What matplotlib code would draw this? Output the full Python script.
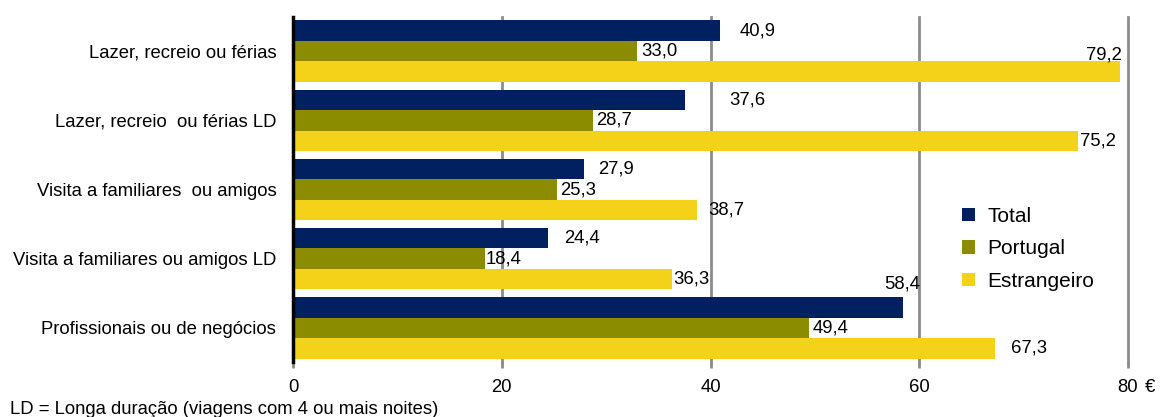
import matplotlib
matplotlib.use("Agg")
import matplotlib.pyplot as plt
import numpy as np

plt.rcParams['font.family'] = ['Liberation Sans', 'DejaVu Sans']

# data
categories = ['Lazer, recreio ou férias',
              'Lazer, recreio  ou férias LD',
              'Visita a familiares  ou amigos',
              'Visita a familiares ou amigos LD',
              'Profissionais ou de negócios']
total = [40.9, 37.6, 27.9, 24.4, 58.4]
portugal = [33.0, 28.7, 25.3, 18.4, 49.4]
estrangeiro = [79.2, 75.2, 38.7, 36.3, 67.3]
series_names = ['Total', 'Portugal', 'Estrangeiro']
xticks = [0, 20, 40, 60, 80]

colors = ['#00205F', '#8C8C00', '#F5D21A']

# label nudges (pixels) to mimic the original label placement
dx = [[20, 4, -34], [44, 4, 2], [14, 3, 11], [16, 1, 1], [-18, 4, 16]]
dy = [[0, 0, -17], [0, 0, 0], [0, 0, 0], [0, 0, 0], [-23, 0, 0]]

fig = plt.figure(figsize=(11.61, 4.17), dpi=100)
ax = fig.add_axes([293 / 1161, 1 - 362 / 417, (1128 - 293) / 1161, (362 - 17) / 417])

fs = 13.3
h = 0.296
y = np.arange(len(categories))
all_series = [total, portugal, estrangeiro]
for j, vals in enumerate(all_series):
    pos = y + (j - 1) * h
    ax.barh(pos, vals, height=h, color=colors[j], label=series_names[j], zorder=2)
    for i, v in enumerate(vals):
        ax.annotate(f'{v:.1f}'.replace('.', ','), (v, pos[i]),
                    xytext=(dx[i][j] * 0.72, -dy[i][j] * 0.72), textcoords='offset points',
                    ha='left', va='center', fontsize=fs, color='black', zorder=4)

ax.set_xlim(0, 80)
ax.set_ylim(len(categories) - 1 + 1.5 * h + 0.05, -1.5 * h - 0.05)
ax.set_yticks(y)
ax.set_yticklabels(categories, fontsize=fs)
ax.set_xticks(xticks)
ax.set_xticklabels([str(t) for t in xticks], fontsize=fs)
ax.annotate('€', (80, 0), xycoords=ax.get_xaxis_transform(),
            xytext=(12, -12), textcoords='offset points',
            ha='left', va='top', fontsize=fs)

for t in xticks[1:]:
    ax.axvline(t, color='#8C8C8C', linewidth=2, zorder=1, clip_on=False)

for s in ['top', 'right', 'bottom']:
    ax.spines[s].set_visible(False)
ax.spines['left'].set_linewidth(2.5)
ax.spines['left'].set_color('black')
ax.spines['left'].set_zorder(3)
ax.tick_params(axis='y', length=0, pad=12)
ax.tick_params(axis='x', length=4, color='#8C8C8C', width=2, pad=8)

leg = ax.legend(loc='upper left', bbox_to_anchor=(0.779, 0.505), frameon=False,
                fontsize=15, handlelength=0.6, handleheight=0.6,
                handletextpad=0.6, labelspacing=0.66)

fig.text(10 / 1161, 1 - 410 / 417, 'LD = Longa duração (viagens com 4 ou mais noites)',
         fontsize=fs, ha='left', va='center')

fig.savefig('out.png', dpi=100)
